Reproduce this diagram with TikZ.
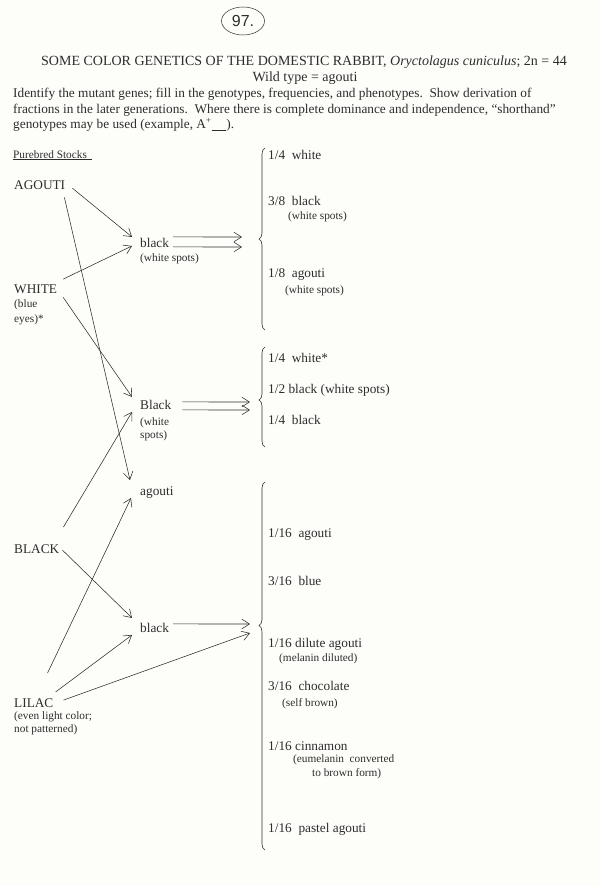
\documentclass[tikz,border=0pt]{standalone}
\usepackage{fontspec}
\setmainfont{Liberation Serif}
\newfontfamily\handfont{Liberation Sans}
\usetikzlibrary{positioning,arrows.meta,decorations.pathreplacing}
\usepgflibrary{shapes.geometric}
\definecolor{ink}{RGB}{45,45,45}
\definecolor{paper}{RGB}{253,253,249}
\tikzset{%
lbl/.style={anchor=base west,inner sep=0pt,font=\fontsize{13.3}{16}\selectfont},
note/.style={anchor=base west,inner sep=0pt,font=\fontsize{11.3}{13}\selectfont},
headline/.style={anchor=base,inner sep=0pt,font=\fontsize{14}{16}\selectfont},
cross/.style={-{Straight Barb[length=7.5pt,width=9.5pt]},line width=0.55pt},
bracket/.style={decorate,decoration={brace,amplitude=6pt,aspect=#1},line width=0.6pt},
stamp/.style={draw,ellipse,minimum width=43pt,minimum height=28pt,inner sep=0pt,line width=0.5pt,font=\handfont\fontsize{16}{16}\selectfont}
}

\begin{document}
\begin{tikzpicture}[x=1pt,y=-1pt,color=ink]

    \useasboundingbox (0,0) rectangle (600,886);
    \fill[paper] (0,0) rectangle (600,886);

    \node[stamp] (page) at (243,21) {97.};

    \node[headline] (title) at (304,65) {SOME COLOR GENETICS OF THE DOMESTIC RABBIT, \textit{Oryctolagus cuniculus}; 2n = 44};
    \node[headline] (wild) at (305,81) {Wild type = agouti};
    \node[lbl] (para1) at (13,97) {Identify the mutant genes; fill in the genotypes, frequencies, and phenotypes.\ \ Show derivation of};
    \node[lbl] (para2) at (13,113) {fractions in the later generations.\ \ Where there is complete dominance and independence, ``shorthand''};
    \node[lbl] (para3) at (13,128.5) {genotypes may be used (example, A\textsuperscript{+}\underline{\hspace{1.1em}}).};

    \node[note] (stocks) at (13,158) {\underline{Purebred Stocks\hspace{5pt}}};

    % parents
    \node[lbl] (pag) at (14,189) {AGOUTI};
    \node[lbl] (pwh) at (14,293) {WHITE};
    \node[note] (pwh1) at (14,307) {(blue};
    \node[note] (pwh2) at (14,322) {eyes)*};
    \node[lbl] (pbk) at (14,553) {BLACK};
    \node[lbl] (plc) at (14,707) {LILAC};
    \node[note] (plc1) at (14,719) {(even light color;};
    \node[note] (plc2) at (14,732) {not patterned)};

    % first crosses
    \node[lbl] (blk1) at (140,247) {black};
    \node[note] (blk1n) at (140,261) {(white spots)};
    \node[lbl] (Blk2) at (140,409) {Black};
    \node[note] (Blk2n) at (140,425) {(white};
    \node[note] (Blk2m) at (140,438) {spots)};
    \node[lbl] (agu) at (140,495) {agouti};
    \node[lbl] (blk3) at (140,632) {black};

    % later generations
    \node[lbl] (r1a) at (268,159) {1/4\ \ white};
    \node[lbl] (r1b) at (268,205) {3/8\ \ black};
    \node[note] (r1c) at (288,219) {(white spots)};
    \node[lbl] (r1d) at (268,277) {1/8\ \ agouti};
    \node[note] (r1e) at (285,293) {(white spots)};

    \node[lbl] (r2a) at (268,362) {1/4\ \ white*};
    \node[lbl] (r2b) at (268,393) {1/2 black (white spots)};
    \node[lbl] (r2c) at (268,424) {1/4\ \ black};

    \node[lbl] (r3a) at (268,537) {1/16\ \ agouti};
    \node[lbl] (r3b) at (268,585) {3/16\ \ blue};
    \node[lbl] (r3c) at (268,647) {1/16 dilute agouti};
    \node[note] (r3d) at (279,661) {(melanin diluted)};
    \node[lbl] (r3e) at (268,690) {3/16\ \ chocolate};
    \node[note] (r3f) at (282,706) {(self brown)};
    \node[lbl] (r3g) at (268,750) {1/16 cinnamon};
    \node[note] (r3h) at (293,762) {(eumelanin\ \ converted};
    \node[note] (r3i) at (312,776) {to brown form)};
    \node[lbl] (r3j) at (268,832) {1/16\ \ pastel agouti};

    \draw[bracket=0.5] (265,330) -- (265,148);
    \draw[bracket=0.47] (265,447) -- (265,347);
    \draw[bracket=0.61] (265,850) -- (265,482);

    \coordinate (t1a) at (242,237);
    \coordinate (t1b) at (242,247);
    \coordinate (t2a) at (250,402);
    \coordinate (t2b) at (250,410);
    \coordinate (t3a) at (250,624);
    \coordinate (t3b) at (250,633);

    \draw[cross] ([xshift=7pt,yshift=-3.5pt]pag.east) -- ([xshift=-8pt,yshift=5.5pt]blk1.west);
    \draw[cross] ([xshift=-1pt,yshift=-8pt]pag.south east) -- ([xshift=-10pt,yshift=12pt]agu.west);
    \draw[cross] ([xshift=6pt,yshift=5pt]pwh.north east) -- ([xshift=-8pt,yshift=-3.5pt]blk1.west);
    \draw[cross] ([xshift=6pt,yshift=-4pt]pwh.south east) -- ([xshift=-8pt,yshift=7.5pt]Blk2.west);
    \draw[cross] ([xshift=4pt,yshift=17pt]pbk.north east) -- ([xshift=-8pt,yshift=-7.5pt]Blk2.west);
    \draw[cross] ([xshift=3pt,yshift=-1.5pt]pbk.east) -- ([xshift=-8pt,yshift=9.5pt]blk3.west);
    \draw[cross] ([xshift=-6pt,yshift=25pt]plc.north east) -- ([xshift=-9pt,yshift=-6pt]agu.west);
    \draw[cross] ([xshift=2pt,yshift=6pt]plc.north east) -- ([xshift=-8pt,yshift=-7.5pt]blk3.west);
    \draw[cross] ([xshift=10pt,yshift=2.6pt]plc.east) -- (t3b);
    \draw[cross] ([xshift=4pt,yshift=3.5pt]blk3.east) -- (t3a);

    \draw[cross] ([xshift=4pt,yshift=5.5pt]blk1.east) -- (t1a);
    \draw[cross] ([xshift=4pt,yshift=-4.5pt]blk1.east) -- (t1b);
    \draw[cross] ([xshift=11pt,yshift=2.5pt]Blk2.east) -- (t2a);
    \draw[cross] ([xshift=11pt,yshift=-5.5pt]Blk2.east) -- (t2b);

\end{tikzpicture}
\end{document}
